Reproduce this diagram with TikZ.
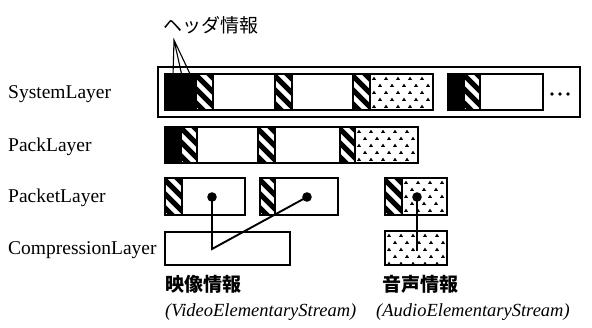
\documentclass[tikz,border=0pt]{standalone}
\usepackage{fontspec}
\setmainfont{Liberation Serif}
\newfontfamily\cjk{Noto Sans CJK JP}
\newcommand\hatchseg[4]{%
  \begin{scope}
    \clip (#1,#2) rectangle (#3,#4);
    \foreach \k in {-4,...,4}{\draw[line width=5pt] ({#1-2},{#2+\k*14}) -- ++(50,50);}
  \end{scope}}
\newcommand\dotseg[4]{%
  \begin{scope}
    \clip (#1,#2) rectangle (#3,#4);
    \foreach \r in {0,...,6}{\foreach \c in {0,...,8}{
      \fill ({#1+4+\c*12+mod(\r,2)*6},{#2+4.5+\r*7}) +(-2,1.3) -- +(0,-1.8) -- +(2,1.3) -- cycle;}}
  \end{scope}}
\newcommand\blackseg[4]{\fill (#1,#2) rectangle (#3,#4);}
\begin{document}
\begin{tikzpicture}[x=1pt,y=-1pt,
  outerframe/.style={draw, line width=2pt},
  frame/.style={draw, line width=1.6pt},
  sep/.style={line width=1.4pt},
  link/.style={line width=1.9pt},
  tiny/.style={line width=1.1pt},
  lbl/.style={anchor=base west, inner sep=0pt, font=\fontsize{19.5}{20}\selectfont},
  jpr/.style={anchor=base west, inner sep=0pt, font=\cjk\fontsize{19}{20}\selectfont},
  jpb/.style={anchor=base west, inner sep=0pt, font=\cjk\bfseries\fontsize{19}{20}\selectfont},
  ital/.style={anchor=base west, inner sep=0pt, font=\itshape\fontsize{18.5}{20}\selectfont}]
\useasboundingbox (0,0) rectangle (592,327);

% labels
\node[lbl] (lsys) at (8,98) {SystemLayer};
\node[lbl] (lpack) at (8,151) {PackLayer};
\node[lbl] (lpacket) at (8,202) {PacketLayer};
\node[lbl] (lcomp) at (8,254) {CompressionLayer};

% header label
\node[jpr] (hdr) at (163,32) {ヘッダ情報};
\coordinate (tip) at (174,40);
\coordinate (h1) at (173,76);
\coordinate (h2) at (182,76);
\coordinate (h3) at (191,76);
\draw[tiny] (h1) -- (tip) -- (h3) (tip) -- (h2);

% ---------- System layer ----------
\draw[outerframe] (158,67) rectangle (580,117);
\blackseg{165}{74}{197}{110}
\hatchseg{197}{74}{213}{110}
\hatchseg{275}{74}{292}{110}
\hatchseg{353}{74}{370}{110}
\dotseg{370}{74}{433}{110}
\draw[frame] (165,74) rectangle (433,110);
\draw[sep] (213,74) -- (213,110) (275,74) -- (275,110) (292,74) -- (292,110)
           (353,74) -- (353,110) (370,74) -- (370,110);
\blackseg{448}{74}{465}{110}
\hatchseg{465}{74}{480}{110}
\draw[frame] (448,74) rectangle (543,110);
\draw[sep] (480,74) -- (480,110);
\foreach \x in {552,560,568}{\fill (\x,94) circle (1.8);}

% ---------- Pack layer ----------
\blackseg{165}{127}{182}{163}
\hatchseg{182}{127}{197}{163}
\hatchseg{258}{127}{275}{163}
\hatchseg{340}{127}{355}{163}
\dotseg{355}{127}{418}{163}
\draw[frame] (165,127) rectangle (418,163);
\draw[sep] (197,127) -- (197,163) (258,127) -- (258,163) (275,127) -- (275,163)
           (340,127) -- (340,163) (355,127) -- (355,163);

% ---------- Packet layer ----------
\hatchseg{165}{178}{182}{215}
\draw[frame] (165,178) rectangle (245,215);
\draw[sep] (182,178) -- (182,215);
\hatchseg{260}{178}{275}{215}
\draw[frame] (260,178) rectangle (338,215);
\draw[sep] (275,178) -- (275,215);
\hatchseg{385}{178}{402}{215}
\dotseg{402}{178}{447}{215}
\draw[frame] (385,178) rectangle (447,215);
\draw[sep] (402,178) -- (402,215);

% ---------- Compression layer ----------
\draw[frame] (165,232) rectangle (290,265);
\dotseg{385}{231}{447}{265}
\draw[frame] (385,231) rectangle (447,265);

% connectors
\coordinate (vd1) at (212,197);
\coordinate (vd2) at (307,197);
\coordinate (vbend) at (212,249);
\coordinate (ad) at (417,197);
\coordinate (aend) at (417,251);
\draw[link] (vd1) -- (vbend) -- (vd2);
\draw[link] (ad) -- (aend);
\fill (vd1) circle (4.8);
\fill (vd2) circle (4.8);
\fill (ad) circle (4.8);

% bottom texts
\node[jpb] (vinfo) at (165,291) {映像情報};
\node[jpb] (ainfo) at (382,291) {音声情報};
\node[ital] (vname) at (165,316) {(VideoElementaryStream)};
\node[ital] (aname) at (376,316) {(AudioElementaryStream)};
\end{tikzpicture}
\end{document}
